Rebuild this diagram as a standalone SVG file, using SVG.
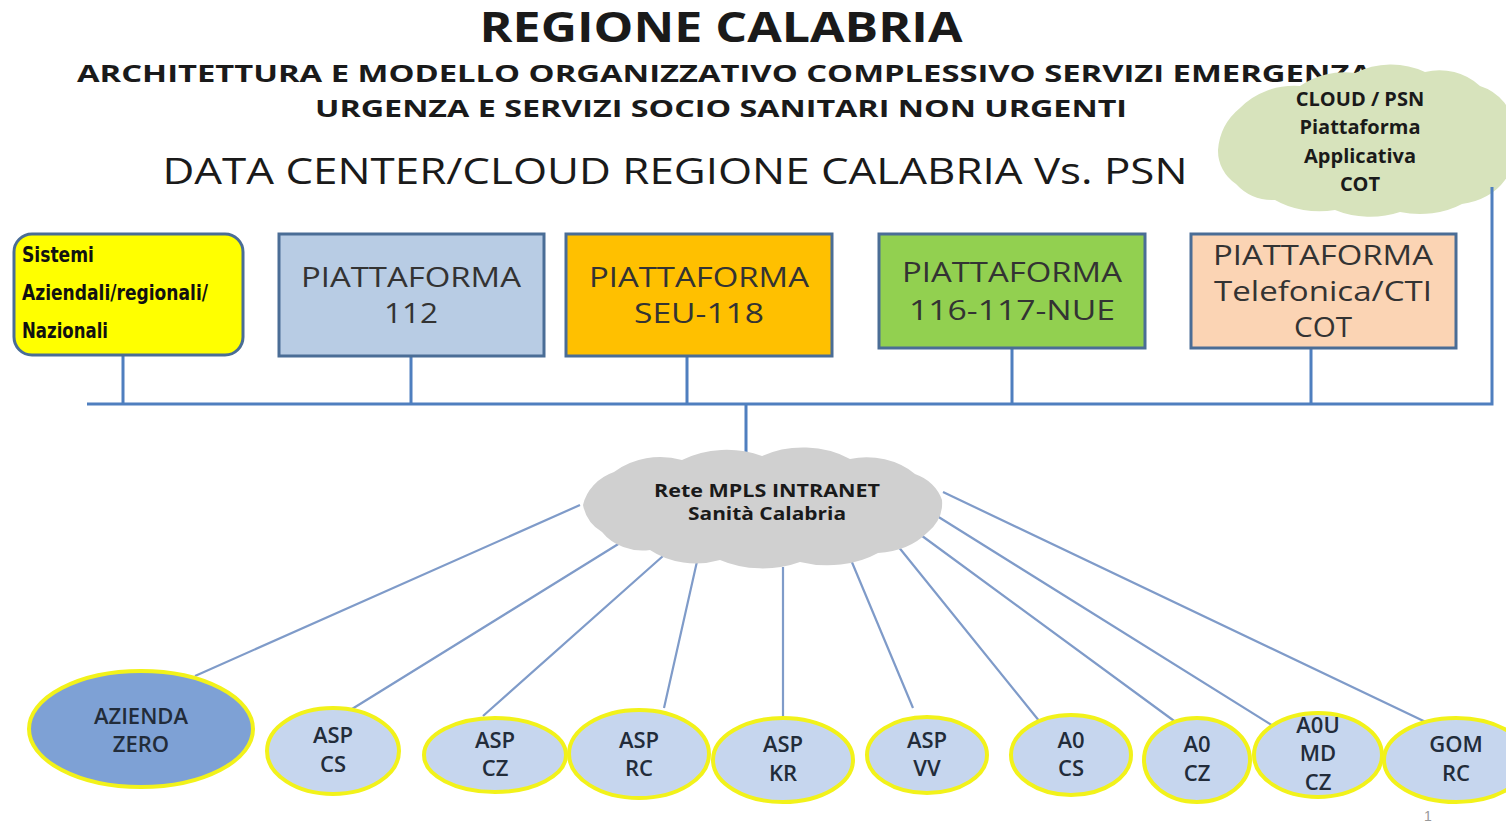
<svg xmlns="http://www.w3.org/2000/svg" width="1506" height="825" viewBox="0 0 1506 825">
<style>
.t{font-family:"Open Sans","Liberation Sans",sans-serif;fill:#1a1a1a}
.b{font-weight:bold}
.box{stroke:#4a6d96;stroke-width:3}
.bt{font-family:"Open Sans","Liberation Sans",sans-serif;font-size:27px;fill:#333333;text-anchor:middle}
.bus{stroke:#4f7fbf;stroke-width:3;fill:none}
.link{stroke:#7f9bc9;stroke-width:2.2;fill:none}
.ell{stroke:#f2f21a;stroke-width:4}
.et{font-family:"Open Sans","Liberation Sans",sans-serif;font-size:22px;fill:#222c3a;text-anchor:middle;font-weight:600}
</style>
<rect width="1506" height="825" fill="#ffffff"/>
<g id="title">
<text class="t b" x="721" y="42" font-size="41" text-anchor="middle" textLength="483" lengthAdjust="spacingAndGlyphs">REGIONE CALABRIA</text>
<text class="t b" x="77" y="82" font-size="24" textLength="1295" lengthAdjust="spacingAndGlyphs">ARCHITETTURA E MODELLO ORGANIZZATIVO COMPLESSIVO SERVIZI EMERGENZA</text>
<text class="t b" x="721" y="117" font-size="24" text-anchor="middle" textLength="812" lengthAdjust="spacingAndGlyphs">URGENZA E SERVIZI SOCIO SANITARI NON URGENTI</text>
<text class="t" x="675" y="184" font-size="37" text-anchor="middle" fill="#222" textLength="1025" lengthAdjust="spacingAndGlyphs">DATA CENTER/CLOUD REGIONE CALABRIA Vs. PSN</text>
</g>
<g id="cloud-psn">
<path d="M1218,150 A60,60 0 0 1 1240,108 A70,60 0 0 1 1300,86 A70,60 0 0 1 1355,73 A70,60 0 0 1 1425,72 A60,60 0 0 1 1480,86 A50,50 0 0 1 1515,130 A50,50 0 0 1 1505,180 A60,50 0 0 1 1462,204 A70,50 0 0 1 1400,212 A70,50 0 0 1 1335,210 A70,50 0 0 1 1275,200 A50,50 0 0 1 1236,184 A40,40 0 0 1 1218,150 Z" fill="#d7e3bc"/>
<g class="t b" font-size="20" text-anchor="middle">
<text x="1360" y="106">CLOUD / PSN</text>
<text x="1360" y="134">Piattaforma</text>
<text x="1360" y="163">Applicativa</text>
<text x="1360" y="191">COT</text>
</g>
</g>
<g id="connectors">
<path class="bus" d="M87,404 H1492 V187"/>
<path class="bus" d="M123,355 V404 M411,356 V404 M687,356 V404 M1012,348 V404 M1311,348 V404 M746,404 V462"/>
<path class="link" d="M580,505 L195,676 M628,538 L352,709 M663,556 L483,716 M698,557 L664,708 M783,567 L783,716 M846,548 L913,708 M893,540 L1040,722 M914,530 L1181,726 M937,516 L1278,729 M943,492 L1432,725"/>
</g>
<g id="sistemi">
<rect class="box" x="14" y="234" width="229" height="121" rx="18" fill="#ffff00"/>
<g font-family="'DejaVu Sans Condensed','Liberation Sans',sans-serif" font-weight="bold" font-size="22" fill="#111">
<text x="22" y="262" textLength="72" lengthAdjust="spacingAndGlyphs">Sistemi</text>
<text x="22" y="300" textLength="186" lengthAdjust="spacingAndGlyphs">Aziendali/regionali/</text>
<text x="22" y="338" textLength="86" lengthAdjust="spacingAndGlyphs">Nazionali</text>
</g>
</g>
<g id="p112">
<rect class="box" x="279" y="234" width="265" height="122" fill="#b8cce4"/>
<text class="bt" x="411" y="287" textLength="220" lengthAdjust="spacingAndGlyphs">PIATTAFORMA</text>
<text class="bt" x="411" y="323" textLength="54" lengthAdjust="spacingAndGlyphs">112</text>
</g>
<g id="p118">
<rect class="box" x="566" y="234" width="266" height="122" fill="#ffc000"/>
<text class="bt" x="699" y="287" textLength="220" lengthAdjust="spacingAndGlyphs">PIATTAFORMA</text>
<text class="bt" x="699" y="323" textLength="130" lengthAdjust="spacingAndGlyphs">SEU-118</text>
</g>
<g id="p116">
<rect class="box" x="879" y="234" width="266" height="114" fill="#92d050"/>
<text class="bt" x="1012" y="282" textLength="220" lengthAdjust="spacingAndGlyphs">PIATTAFORMA</text>
<text class="bt" x="1012" y="320" textLength="206" lengthAdjust="spacingAndGlyphs">116-117-NUE</text>
</g>
<g id="pcti">
<rect class="box" x="1191" y="234" width="265" height="114" fill="#fbd4b4"/>
<text class="bt" x="1323" y="265" textLength="220" lengthAdjust="spacingAndGlyphs">PIATTAFORMA</text>
<text class="bt" x="1323" y="301" textLength="218" lengthAdjust="spacingAndGlyphs">Telefonica/CTI</text>
<text class="bt" x="1323" y="337" textLength="58" lengthAdjust="spacingAndGlyphs">COT</text>
</g>
<g id="mpls">
<path d="M583,505 A50,45 0 0 1 614,472 A70,60 0 0 1 682,460 A80,60 0 0 1 762,456 A80,60 0 0 1 850,459 A70,60 0 0 1 915,474 A45,40 0 0 1 942,500 A45,40 0 0 1 928,532 A70,55 0 0 1 878,553 A80,55 0 0 1 800,562 A80,55 0 0 1 720,560 A70,55 0 0 1 650,550 A50,45 0 0 1 602,532 A40,40 0 0 1 583,505 Z" fill="#d0d0d0"/>
<g class="t b" font-size="17" text-anchor="middle">
<text x="767" y="497" textLength="226" lengthAdjust="spacingAndGlyphs">Rete MPLS INTRANET</text>
<text x="767" y="520" textLength="158" lengthAdjust="spacingAndGlyphs">Sanità Calabria</text>
</g>
</g>
<g id="azienda-zero">
<ellipse class="ell" cx="141" cy="729" rx="112" ry="58" fill="#7ea1d5"/>
<text class="et" x="141" y="724">AZIENDA</text>
<text class="et" x="141" y="752">ZERO</text>
</g>
<g id="asp-cs">
<ellipse class="ell" cx="333" cy="751" rx="66" ry="43" fill="#c6d6ee"/>
<text class="et" x="333" y="743">ASP</text>
<text class="et" x="333" y="772">CS</text>
</g>
<g id="asp-cz">
<ellipse class="ell" cx="495" cy="755" rx="71" ry="37" fill="#c6d6ee"/>
<text class="et" x="495" y="748">ASP</text>
<text class="et" x="495" y="776">CZ</text>
</g>
<g id="asp-rc">
<ellipse class="ell" cx="639" cy="754" rx="70" ry="44" fill="#c6d6ee"/>
<text class="et" x="639" y="748">ASP</text>
<text class="et" x="639" y="776">RC</text>
</g>
<g id="asp-kr">
<ellipse class="ell" cx="783" cy="760" rx="70" ry="42" fill="#c6d6ee"/>
<text class="et" x="783" y="752">ASP</text>
<text class="et" x="783" y="781">KR</text>
</g>
<g id="asp-vv">
<ellipse class="ell" cx="927" cy="755" rx="60" ry="38" fill="#c6d6ee"/>
<text class="et" x="927" y="748">ASP</text>
<text class="et" x="927" y="776">VV</text>
</g>
<g id="ao-cs">
<ellipse class="ell" cx="1071" cy="755" rx="60" ry="40" fill="#c6d6ee"/>
<text class="et" x="1071" y="748">A0</text>
<text class="et" x="1071" y="776">CS</text>
</g>
<g id="ao-cz">
<ellipse class="ell" cx="1197" cy="760" rx="53" ry="42" fill="#c6d6ee"/>
<text class="et" x="1197" y="752">A0</text>
<text class="et" x="1197" y="781">CZ</text>
</g>
<g id="aou-md-cz">
<ellipse class="ell" cx="1318" cy="755" rx="64" ry="42" fill="#c6d6ee"/>
<text class="et" x="1318" y="733">A0U</text>
<text class="et" x="1318" y="761">MD</text>
<text class="et" x="1318" y="790">CZ</text>
</g>
<g id="gom-rc">
<ellipse class="ell" cx="1456" cy="760" rx="72" ry="42" fill="#c6d6ee"/>
<text class="et" x="1456" y="752">GOM</text>
<text class="et" x="1456" y="781">RC</text>
</g>
<text x="1428" y="821" font-family="'Liberation Sans',sans-serif" font-size="14" fill="#999" text-anchor="middle">1</text>
</svg>
